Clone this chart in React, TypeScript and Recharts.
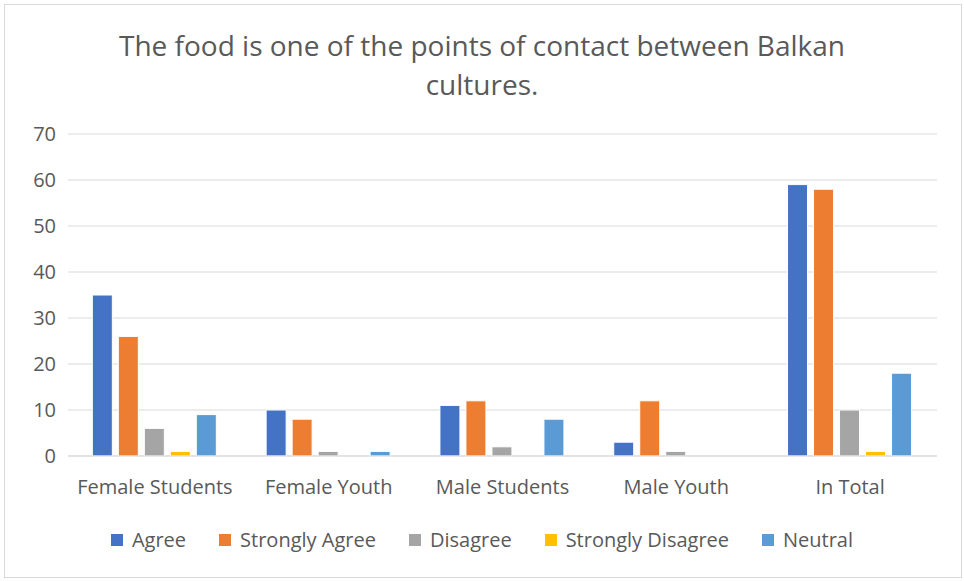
import { Bar, BarChart, CartesianGrid, XAxis, YAxis } from "recharts";

const categories = ["Female Students", "Female Youth", "Male Students", "Male Youth", "In Total"];
const agree = [35, 10, 11, 3, 59];
const stronglyAgree = [26, 8, 12, 12, 58];
const disagree = [6, 1, 2, 1, 10];
const stronglyDisagree = [1, 0, 0, 0, 1];
const neutral = [9, 1, 8, 0, 18];
const yTicks = [0, 10, 20, 30, 40, 50, 60, 70];

const series = [
  { key: "agree", name: "Agree", color: "#4472c4" },
  { key: "stronglyAgree", name: "Strongly Agree", color: "#ed7d31" },
  { key: "disagree", name: "Disagree", color: "#a5a5a5" },
  { key: "stronglyDisagree", name: "Strongly Disagree", color: "#ffc000" },
  { key: "neutral", name: "Neutral", color: "#5b9bd5" },
];

const data = categories.map((c, i) => ({
  category: c,
  agree: agree[i],
  stronglyAgree: stronglyAgree[i],
  disagree: disagree[i],
  stronglyDisagree: stronglyDisagree[i],
  neutral: neutral[i],
}));

const FONT = "'Open Sans', sans-serif";
const TEXT = "#595959";

function LegendRow() {
  return (
    <div
      style={{
        position: "absolute",
        left: 0,
        top: 526,
        width: 964,
        display: "flex",
        justifyContent: "center",
        gap: 33,
        fontFamily: FONT,
        fontSize: 20,
        lineHeight: "28px",
        color: TEXT,
      }}
    >
      {series.map((s) => (
        <div key={s.key} style={{ display: "flex", alignItems: "center" }}>
          <span style={{ width: 12, height: 12, background: s.color, marginRight: 9, display: "inline-block" }} />
          {s.name}
        </div>
      ))}
    </div>
  );
}

export default function App() {
  return (
    <div style={{ position: "absolute", left: 0, top: 0, width: 964, height: 581, background: "#fff" }}>
      <div
        style={{
          position: "absolute",
          left: 4,
          top: 4,
          width: 956,
          height: 572,
          border: "1px solid #d9d9d9",
        }}
      />
      <div
        style={{
          position: "absolute",
          left: 0,
          top: 26,
          width: 964,
          textAlign: "center",
          fontFamily: FONT,
          fontSize: 28,
          lineHeight: "39px",
          color: TEXT,
        }}
      >
        The food is one of the points of contact between Balkan
        <br />
        cultures.
      </div>
      <div style={{ position: "absolute", left: 0, top: 0 }}>
        <BarChart
          width={964}
          height={581}
          data={data}
          margin={{ top: 134, right: 27, bottom: 95, left: 8 }}
          barCategoryGap="14%"
          barGap={6}
        >
          <CartesianGrid vertical={false} stroke="#d9d9d9" />
          <XAxis
            dataKey="category"
            height={30}
            stroke="#d9d9d9"
            tickLine={false}
            tickSize={0}
            tickMargin={24}
            tick={{ fill: TEXT, fontSize: 20, fontFamily: FONT }}
            interval={0}
          />
          <YAxis
            width={60}
            domain={[0, 70]}
            ticks={yTicks}
            axisLine={false}
            tickLine={false}
            tickSize={0}
            tickMargin={12}
            tick={{ fill: TEXT, fontSize: 20, fontFamily: FONT }}
          />
          {series.map((s) => (
            <Bar
              key={s.key}
              dataKey={s.key}
              name={s.name}
              fill={s.color}
              stroke="#ffffff"
              strokeWidth={1}
              isAnimationActive={false}
            />
          ))}
        </BarChart>
      </div>
      <LegendRow />
    </div>
  );
}
